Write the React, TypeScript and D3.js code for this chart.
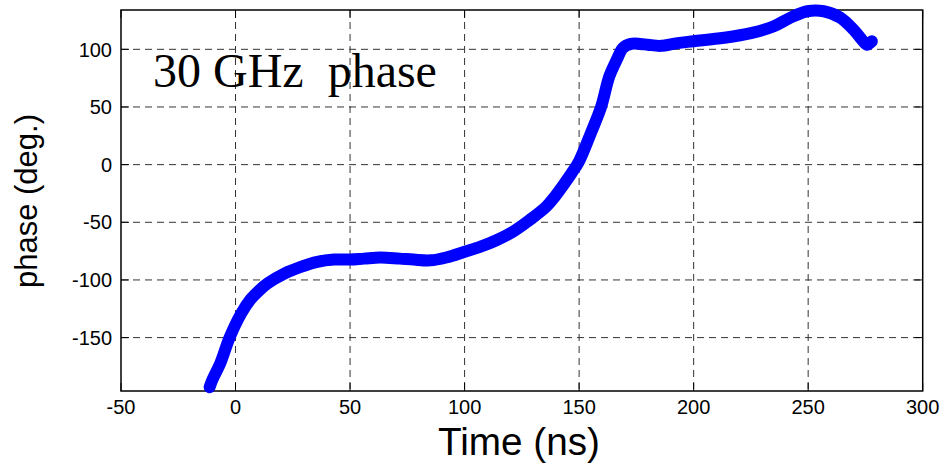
import * as d3 from 'd3';

// phase curve (time in ns, phase in degrees)
const timeNs = [
  -11.3, -10.2, -6.6, -2.6, 2.5, 6.5, 10.4, 14, 21.3, 28.5, 35.7, 43, 50,
  56, 63.2, 71.7, 77.7, 85, 92, 100, 106.7, 113.9, 121, 128.4, 135.6, 139.3,
  143, 146.5, 150, 155.2, 159.6, 163.2, 166.8, 169, 172.6, 176.7, 180, 185.6, 192.9,
  200, 213.3, 225, 235, 242.3, 249.6, 256.8, 264, 269.8, 274, 275.6, 277.8,
];
const phaseDeg = [
  -193, -187, -172, -150, -129, -117, -109, -103, -94.5, -88.7, -84.3, -82.3, -82.3,
  -81.5, -80.5, -81.5, -82.3, -83, -80.5, -75.6, -71.3, -65.5, -58.3, -48, -36.5, -28,
  -18, -8, 3, 27.7, 50, 76.6, 92.5, 101, 104.7, 104.7, 104, 103, 105.4,
  107, 110, 114, 120, 127.5, 133, 133, 127.5, 117, 107, 104, 107,
];
const xTicks = [-50, 0, 50, 100, 150, 200, 250, 300];
const yTicks = [-150, -100, -50, 0, 50, 100];

const W = 943;
const H = 463;
const left = 121, right = 922.7, top = 10, bottom = 391;

export default function App() {
  const x = d3.scaleLinear().domain([-50, 300]).range([left, right]);
  const y = d3.scaleLinear().domain([-196.3, 134.1]).range([bottom, top]);

  const pts: [number, number][] = timeNs.map((t, i) => [t, phaseDeg[i]]);
  const line = d3.line<[number, number]>()
    .x(d => x(d[0]))
    .y(d => y(d[1]))
    .curve(d3.curveCatmullRom.alpha(0.5));

  const tickFont = { fontFamily: 'Liberation Sans, Arial, sans-serif', fontSize: 20 };
  const grid = '#333';

  return (
    <svg width={W} height={H} style={{ position: 'absolute', left: 0, top: 0, background: '#fff' }}>
      <rect x={0} y={0} width={W} height={H} fill="#fff" />

      {/* grid */}
      {xTicks.filter(t => t > -50 && t < 300).map(t => (
        <line key={'gx' + t} x1={x(t)} x2={x(t)} y1={top} y2={bottom}
          stroke={grid} strokeWidth={1} strokeDasharray="7,5" />
      ))}
      {yTicks.map(t => (
        <line key={'gy' + t} x1={left} x2={right} y1={y(t)} y2={y(t)}
          stroke={grid} strokeWidth={1} strokeDasharray="7,5" />
      ))}

      {/* ticks, inside on all four sides */}
      {xTicks.map(t => (
        <g key={'tx' + t}>
          <line x1={x(t)} x2={x(t)} y1={bottom} y2={bottom - 8} stroke="#000" strokeWidth={1} />
          <line x1={x(t)} x2={x(t)} y1={top} y2={top + 8} stroke="#000" strokeWidth={1} />
          <text x={x(t)} y={414} textAnchor="middle" {...tickFont}>{t}</text>
        </g>
      ))}
      {yTicks.map(t => (
        <g key={'ty' + t}>
          <line x1={left} x2={left + 8} y1={y(t)} y2={y(t)} stroke="#000" strokeWidth={1} />
          <line x1={right} x2={right - 8} y1={y(t)} y2={y(t)} stroke="#000" strokeWidth={1} />
          <text x={112} y={y(t)} dy="0.36em" textAnchor="end" {...tickFont}>{t}</text>
        </g>
      ))}

      {/* frame */}
      <rect x={left} y={top} width={right - left} height={bottom - top}
        fill="none" stroke="#000" strokeWidth={1.5} />

      {/* data */}
      <path d={line(pts) || ''} fill="none" stroke="#0000ff" strokeWidth={12}
        strokeLinecap="round" strokeLinejoin="round" />

      <text x={153} y={87} fontFamily="Liberation Serif, Times New Roman, serif" fontSize={48}
        style={{ whiteSpace: 'pre' }}>{'30 GHz  phase'}</text>

      <text x={519} y={455} textAnchor="middle" fontFamily="Liberation Sans, Arial, sans-serif"
        fontSize={38} textLength={162} lengthAdjust="spacingAndGlyphs">Time (ns)</text>

      <text transform="translate(37,201) rotate(-90)" textAnchor="middle"
        fontFamily="Liberation Sans, Arial, sans-serif" fontSize={31}>phase (deg.)</text>
    </svg>
  );
}
